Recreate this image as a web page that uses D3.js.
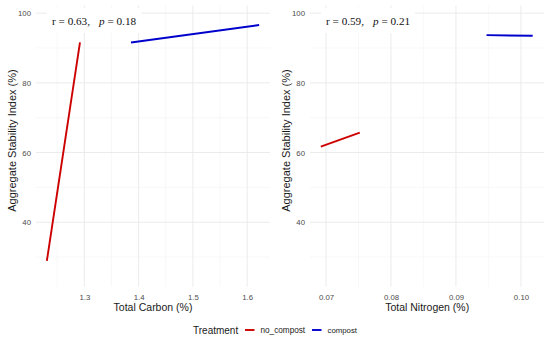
<!DOCTYPE html>
<html>
<head>
<meta charset="utf-8">
<script src="https://cdn.jsdelivr.net/npm/d3@7"></script>
<style>
  body { margin: 0; background: #fff; }
  svg { display: block; font-family: "Liberation Sans", Arial, sans-serif; }
</style>
</head>
<body>
<div id="chart"></div>
<script>
// fitted line endpoints: [x, ASI]
const treatments = ["no_compost", "compost"];
const carbonNoCompost = [[1.231, 28.9], [1.292, 91.6]];
const carbonCompost = [[1.386, 91.6], [1.622, 96.6]];
const nitrogenNoCompost = [[0.0692, 61.7], [0.0752, 65.7]];
const nitrogenCompost = [[0.0947, 93.7], [0.1018, 93.5]];
const carbonTicks = [1.3, 1.4, 1.5, 1.6];
const nitrogenTicks = [0.07, 0.08, 0.09, 0.10];
const asiTicks = [40, 60, 80, 100];
const stats = [{r: "0.63", p: "0.18"}, {r: "0.59", p: "0.21"}];

const width = 550, height = 339;
const colors = {no_compost: "#cd0000", compost: "#0000cd"};

const svg = d3.select("#chart").append("svg")
    .attr("width", width)
    .attr("height", height);

function drawPanel(cfg) {
    const x = d3.scaleLinear().domain(cfg.xDomain).range([cfg.left, cfg.right]);
    const y = d3.scaleLinear().domain([21.5, 102.2]).range([286.7, 5.5]);
    const g = svg.append("g");

    // minor grid (midpoints between ticks)
    const yMinor = [30, 50, 70, 90];
    g.selectAll(".xminor").data(cfg.xMinor).enter().append("line")
        .attr("x1", d => x(d)).attr("x2", d => x(d))
        .attr("y1", y.range()[0]).attr("y2", y.range()[1])
        .attr("stroke", "#f3f3f3").attr("stroke-width", 0.6);
    g.selectAll(".yminor").data(yMinor).enter().append("line")
        .attr("x1", cfg.left).attr("x2", cfg.right)
        .attr("y1", d => y(d)).attr("y2", d => y(d))
        .attr("stroke", "#f3f3f3").attr("stroke-width", 0.6);

    // major grid
    g.selectAll(".xmajor").data(cfg.xTicks).enter().append("line")
        .attr("x1", d => x(d)).attr("x2", d => x(d))
        .attr("y1", y.range()[0]).attr("y2", y.range()[1])
        .attr("stroke", "#ebebeb").attr("stroke-width", 1);
    g.selectAll(".ymajor").data(asiTicks).enter().append("line")
        .attr("x1", cfg.left).attr("x2", cfg.right)
        .attr("y1", d => y(d)).attr("y2", d => y(d))
        .attr("stroke", "#ebebeb").attr("stroke-width", 1);

    // axes (labels only, theme_minimal look)
    const xAxis = g.append("g")
        .attr("transform", `translate(0,${y.range()[0]})`)
        .call(d3.axisBottom(x).tickValues(cfg.xTicks).tickFormat(cfg.fmt).tickSize(0).tickPadding(8));
    const yAxis = g.append("g")
        .attr("transform", `translate(${cfg.left},0)`)
        .call(d3.axisLeft(y).tickValues(asiTicks).tickSize(0).tickPadding(5));
    [xAxis, yAxis].forEach(a => {
        a.select(".domain").remove();
        a.selectAll("text").attr("fill", "#4d4d4d").attr("font-size", 7.8)
            .attr("font-family", "Liberation Sans, Arial, sans-serif");
    });
    xAxis.selectAll("text").attr("dy", null).attr("y", 13.7);

    // axis titles
    g.append("text")
        .attr("x", (cfg.left + cfg.right) / 2).attr("y", 311)
        .attr("text-anchor", "middle").attr("font-size", 10.5).attr("fill", "#1a1a1a")
        .text(cfg.xTitle);
    g.append("text")
        .attr("transform", `translate(${cfg.left - 20},140.5) rotate(-90)`)
        .attr("text-anchor", "middle").attr("font-size", 11).attr("fill", "#1a1a1a")
        .text("Aggregate Stability Index (%)");

    // fitted lines
    const line = d3.line().x(d => x(d[0])).y(d => y(d[1]));
    cfg.series.forEach((s, i) => {
        g.append("path")
            .datum(s)
            .attr("d", line)
            .attr("fill", "none")
            .attr("stroke", colors[treatments[i]])
            .attr("stroke-width", 1.9);
    });

    // correlation label with white box
    const lab = g.append("g");
    const box = lab.append("rect").attr("fill", "#fff");
    const t = lab.append("text")
        .attr("x", cfg.left + 16).attr("y", 24.5)
        .attr("font-family", "Liberation Serif, Times New Roman, serif")
        .attr("font-size", 11.2).attr("fill", "#111");
    t.append("tspan").text(`r = ${cfg.stat.r},`);
    t.append("tspan").attr("dx", 9).attr("font-style", "italic").text("p");
    t.append("tspan").text(` = ${cfg.stat.p}`);
    const bb = t.node().getBBox();
    box.attr("x", bb.x - 5).attr("y", 8).attr("width", bb.width + 10).attr("height", 25);
}

drawPanel({
    left: 36, right: 270,
    xDomain: [1.211, 1.642],
    xTicks: carbonTicks, xMinor: [1.25, 1.35, 1.45, 1.55],
    fmt: d3.format(".1f"),
    xTitle: "Total Carbon (%)",
    series: [carbonNoCompost, carbonCompost],
    stat: stats[0]
});
drawPanel({
    left: 310, right: 544.3,
    xDomain: [0.06754, 0.10359],
    xTicks: nitrogenTicks, xMinor: [0.075, 0.085, 0.095],
    fmt: d3.format(".2f"),
    xTitle: "Total Nitrogen (%)",
    series: [nitrogenNoCompost, nitrogenCompost],
    stat: stats[1]
});

// legend
const legend = svg.append("g").attr("transform", "translate(193,330)");
legend.append("text").attr("x", 0).attr("y", 3.6).attr("font-size", 10).attr("fill", "#1a1a1a").text("Treatment");
const keyX = [52, 119];
const labelSize = [8.2, 7.8];
treatments.forEach((tr, i) => {
    legend.append("line")
        .attr("x1", keyX[i]).attr("x2", keyX[i] + 9.5)
        .attr("y1", 0).attr("y2", 0)
        .attr("stroke", colors[tr]).attr("stroke-width", 1.9);
    legend.append("text")
        .attr("x", keyX[i] + 15.5).attr("y", 3)
        .attr("font-size", labelSize[i]).attr("fill", "#1a1a1a")
        .text(tr);
});
</script>
</body>
</html>
